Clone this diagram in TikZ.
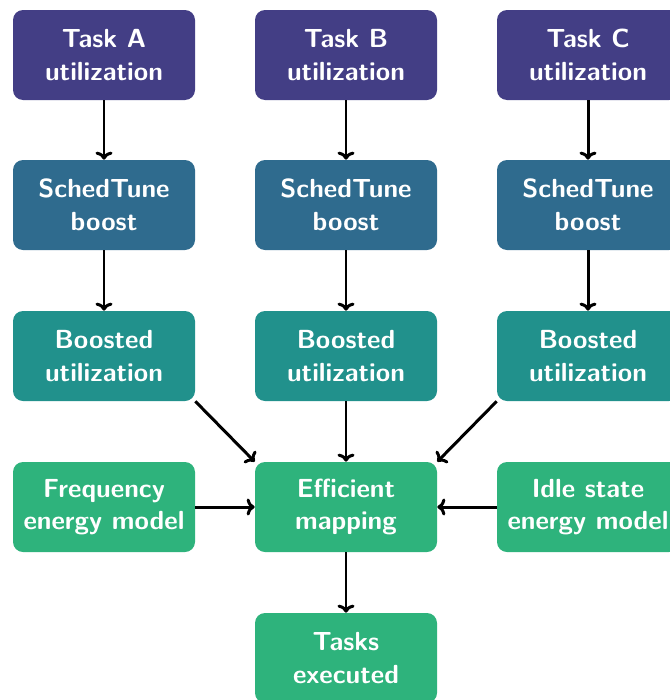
\documentclass[tikz,border=0pt]{standalone}
\usepackage{tikz}
\usetikzlibrary{arrows.meta}

\definecolor{taskcol}{HTML}{433E85}
\definecolor{tunecol}{HTML}{2F6B8E}
\definecolor{boostcol}{HTML}{21918C}
\definecolor{mapcol}{HTML}{2EB37C}

\begin{document}
\begin{tikzpicture}[
  box/.style={rectangle,rounded corners=0.2cm,minimum width=3.64cm,minimum height=1.8cm,
    text=white,align=center,font=\sffamily\bfseries\fontsize{14.9}{18.6}\selectfont},
  flow/.style={-{To[length=1.6mm,width=3.4mm]},line width=1.7pt}]
\useasboundingbox (0,0) rectangle (13.38,-14);

\node[box,fill=taskcol] (taskA) at (2.08,-1.1) {Task A\\utilization};
\node[box,fill=taskcol] (taskB) at (6.92,-1.1) {Task B\\utilization};
\node[box,fill=taskcol] (taskC) at (11.76,-1.1) {Task C\\utilization};

\node[box,fill=tunecol] (tuneA) at (2.08,-4.1) {SchedTune\\boost};
\node[box,fill=tunecol] (tuneB) at (6.92,-4.1) {SchedTune\\boost};
\node[box,fill=tunecol] (tuneC) at (11.76,-4.1) {SchedTune\\boost};

\node[box,fill=boostcol] (boostA) at (2.08,-7.12) {Boosted\\utilization};
\node[box,fill=boostcol] (boostB) at (6.92,-7.12) {Boosted\\utilization};
\node[box,fill=boostcol] (boostC) at (11.76,-7.12) {Boosted\\utilization};

\node[box,fill=mapcol] (freq) at (2.08,-10.14) {Frequency\\energy model};
\node[box,fill=mapcol] (map) at (6.92,-10.14) {Efficient\\mapping};
\node[box,fill=mapcol] (idle) at (11.76,-10.14) {Idle state\\energy model};

\node[box,fill=mapcol] (done) at (6.92,-13.16) {Tasks\\executed};

\draw[flow] (taskA) -- (tuneA);
\draw[flow] (taskB) -- (tuneB);
\draw[flow] (taskC) -- (tuneC);
\draw[flow] (tuneA) -- (boostA);
\draw[flow] (tuneB) -- (boostB);
\draw[flow] (tuneC) -- (boostC);

\draw[flow] (boostA.south east) -- (map.north west);
\draw[flow] (boostB) -- (map);
\draw[flow] (boostC.south west) -- (map.north east);
\draw[flow] (freq) -- (map);
\draw[flow] (idle) -- (map);
\draw[flow] (map) -- (done);
\end{tikzpicture}
\end{document}
